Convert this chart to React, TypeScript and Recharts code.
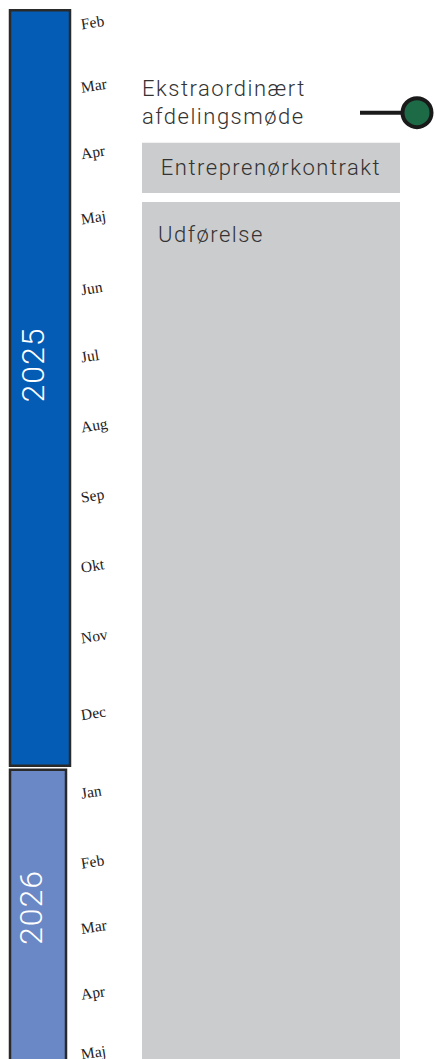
import { BarChart, Bar, XAxis, YAxis, ComposedChart, Scatter, LabelList } from 'recharts';

// vertical time axis, in month positions (1 = Feb 2025)
const monthLabels = ['Feb', 'Mar', 'Apr', 'Maj', 'Jun', 'Jul', 'Aug', 'Sep', 'Okt', 'Nov', 'Dec', 'Jan', 'Feb', 'Mar', 'Apr', 'Maj'];
const monthTicks = [1.0, 1.92, 2.89, 3.84, 4.87, 5.85, 6.87, 7.89, 8.91, 9.94, 11.06, 12.2, 13.22, 14.17, 15.13, 16.0];

const years = ['2025', '2026'];
const yearStart = [0.8, 11.86];
const yearEnd = [11.8, 16.54];

const phases = ['Entreprenørkontrakt', 'Udførelse'];
const phaseStart = [2.73, 3.59];
const phaseEnd = [3.46, 16.07];

const milestones = ['Ekstraordinært afdelingsmøde'];
const milestoneAt = [2.29];

const DOMAIN: [number, number] = [0.65, 16.07];
const W = 435;
const H = 1059;

const yearStyle: Record<string, { fill: string; size: number }> = {
  '2025': { fill: '#045cb4', size: 60 },
  '2026': { fill: '#6a88c6', size: 56 },
};

const yearRow: Record<string, any> = { lane: 'år' };
years.forEach((y, i) => {
  yearRow[y] = [yearStart[i], yearEnd[i]];
});

const phaseRow: Record<string, any> = { lane: 'faser' };
phases.forEach((p, i) => {
  phaseRow[p] = [phaseStart[i], phaseEnd[i]];
});

const milestoneRows = milestones.map((name, i) => ({ lane: 'faser', t: milestoneAt[i], name }));

const SANS = 'Roboto, "Open Sans", sans-serif';

const box = (props: any) => {
  const vb = props.viewBox && props.viewBox.width !== undefined ? props.viewBox : props;
  const top = Math.min(vb.y, vb.y + vb.height);
  return { x: vb.x, top, width: vb.width, height: Math.abs(vb.height) };
};

const MonthTick = ({ x, y, payload }: any) => {
  const i = monthTicks.indexOf(payload.value);
  return (
    <text
      x={x + 1}
      y={y}
      transform={`rotate(-9 ${x + 1} ${y})`}
      dominantBaseline="central"
      fontFamily='"Liberation Serif", serif'
      fontSize={15.5}
      fill="#222"
    >
      {monthLabels[i]}
    </text>
  );
};

const yearLabel = (year: string) => (props: any) => {
  const b = box(props);
  const cx = b.x + b.width / 2 - 7;
  const cy = b.top + b.height / 2 - 23;
  return (
    <text
      x={cx}
      y={cy}
      transform={`rotate(-90 ${cx} ${cy})`}
      textAnchor="middle"
      dominantBaseline="central"
      fill="#fff"
      fontFamily={SANS}
      fontWeight={300}
      fontSize={32}
      letterSpacing={1}
    >
      {year}
    </text>
  );
};

const phaseLabel = (name: string) => (props: any) => {
  const b = box(props);
  const short = b.height < 80;
  return (
    <text
      x={short ? b.x + b.width / 2 : b.x + 16}
      y={short ? b.top + b.height / 2 : b.top + 40}
      textAnchor={short ? 'middle' : 'start'}
      dominantBaseline={short ? 'central' : 'alphabetic'}
      fill="#333"
      fontFamily={SANS}
      fontWeight={300}
      fontSize={22}
      letterSpacing={1.5}
    >
      {name}
    </text>
  );
};

const MilestoneShape = (props: any) => {
  const { cx, cy, payload } = props;
  const words = String(payload.name).split(' ');
  return (
    <g>
      <text fill="#333" fontFamily={SANS} fontWeight={300} fontSize={22} letterSpacing={1.5}>
        <tspan x={cx - 129} y={cy - 17}>{words[0]}</tspan>
        <tspan x={cx - 129} y={cy + 11}>{words.slice(1).join(' ')}</tspan>
      </text>
      <line x1={cx + 89} x2={cx + 134} y1={cy} y2={cy} stroke="#1a1a1a" strokeWidth={4} />
      <circle cx={cx + 146} cy={cy} r={14.5} fill="#1d6a46" stroke="#1a1a1a" strokeWidth={4} />
    </g>
  );
};

export default function App() {
  return (
    <div style={{ position: 'absolute', left: 0, top: 0, width: W, height: H, background: '#fff' }}>
      <div style={{ position: 'absolute', left: 0, top: 0 }}>
        <BarChart width={140} height={H} data={[yearRow]} margin={{ top: 0, right: 0, bottom: 0, left: 0 }} barGap={-60}>
          <XAxis dataKey="lane" type="category" hide />
          <YAxis
            orientation="right"
            type="number"
            domain={DOMAIN}
            reversed
            allowDataOverflow
            ticks={monthTicks}
            interval={0}
            width={65}
            axisLine={false}
            tickLine={false}
            tickSize={0}
            tickMargin={5}
            tick={<MonthTick />}
          />
          {years.map((y) => (
            <Bar
              key={y}
              dataKey={y}
              barSize={yearStyle[y].size}
              fill={yearStyle[y].fill}
              stroke="#2a2a2a"
              strokeWidth={2.5}
              isAnimationActive={false}
            >
              <LabelList dataKey={y} content={yearLabel(y)} />
            </Bar>
          ))}
        </BarChart>
      </div>
      <div style={{ position: 'absolute', left: 0, top: 0 }}>
        <ComposedChart width={W} height={H} data={[phaseRow]} margin={{ top: 0, right: 34, bottom: 0, left: 141 }} barGap={-258}>
          <XAxis dataKey="lane" type="category" allowDuplicatedCategory={false} hide />
          <YAxis type="number" domain={DOMAIN} reversed ticks={monthTicks} hide />
          {phases.map((p) => (
            <Bar key={p} dataKey={p} barSize={258} fill="#cbcccd" isAnimationActive={false}>
              <LabelList dataKey={p} content={phaseLabel(p)} />
            </Bar>
          ))}
          <Scatter data={milestoneRows} dataKey="t" shape={<MilestoneShape />} isAnimationActive={false} />
        </ComposedChart>
      </div>
    </div>
  );
}
